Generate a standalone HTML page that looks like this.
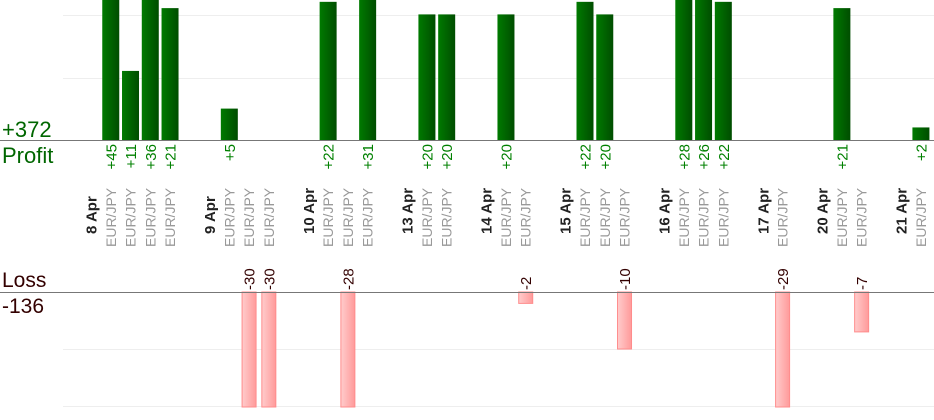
<!DOCTYPE html>
<html><head><meta charset="utf-8"><style>
html,body{margin:0;padding:0;background:#fff;}
svg{display:block;font-family:"Liberation Sans",sans-serif;}
</style></head><body>
<svg id="s" width="934" height="420" xmlns="http://www.w3.org/2000/svg">
<defs>
<linearGradient id="g" x1="0" x2="1" y1="0" y2="0"><stop offset="0" stop-color="#007a00"/><stop offset="1" stop-color="#004d00"/></linearGradient>
<linearGradient id="r" x1="0" x2="1" y1="0" y2="0"><stop offset="0" stop-color="#ffcccc"/><stop offset="1" stop-color="#ff9a9a"/></linearGradient>
</defs>
<line x1="63" x2="934" y1="15.5" y2="15.5" stroke="#eee"/>
<line x1="63" x2="934" y1="78.5" y2="78.5" stroke="#eee"/>
<line x1="63" x2="934" y1="349.5" y2="349.5" stroke="#eee"/>
<line x1="63" x2="934" y1="406.5" y2="406.5" stroke="#eee"/>
<g id="bars"></g>
<line x1="0" x2="934" y1="140.5" y2="140.5" stroke="#777"/>
<line x1="0" x2="934" y1="292.5" y2="292.5" stroke="#777"/>
<text x="2" y="137" font-size="22" fill="#006600">+372</text>
<text x="2" y="163" font-size="22" fill="#006600">Profit</text>
<text x="2" y="287" font-size="21" fill="#330000">Loss</text>
<text x="2" y="313" font-size="21" fill="#330000">-136</text>
</svg>
<script>
var slots={0:'8 Apr',1:45,2:11,3:36,4:21,6:'9 Apr',7:5,8:-30,9:-30,11:'10 Apr',12:22,13:-28,14:31,16:'13 Apr',17:20,18:20,20:'14 Apr',21:20,22:-2,24:'15 Apr',25:22,26:20,27:-10,29:'16 Apr',30:28,31:26,32:22,34:'17 Apr',35:-29,37:'20 Apr',38:21,39:-7,41:'21 Apr',42:2};
var h='';
for(var k in slots){var v=slots[k];var c=91+19.76*k;
if(typeof v==='string'){h+='<text transform="translate('+(c+5.5)+',234) rotate(-90)" font-size="15" font-weight="bold" fill="#222">'+v+'</text>';continue;}
h+='<text transform="translate('+(c+5)+',247) rotate(-90)" font-size="14" fill="#999">EUR/JPY</text>';
if(v>0){var ht=v*6.28;var t=Math.max(0,140-ht);
h+='<rect x="'+(c-8.5)+'" y="'+t+'" width="17" height="'+(140-t)+'" fill="url(#g)"/>';
h+='<text transform="translate('+(c+5.5)+',144) rotate(-90)" text-anchor="end" font-size="15" fill="#008000">+'+v+'</text>';}
else{var ht=-v*5.7;var b=Math.min(407,292+ht);
h+='<rect x="'+(c-7)+'" y="292" width="14" height="'+(b-292)+'" fill="url(#r)" stroke="#ff8c8c" stroke-width="1"/>';
h+='<text transform="translate('+(c+5.5)+',290) rotate(-90)" font-size="15" fill="#300">'+v+'</text>';}
}
document.getElementById('bars').innerHTML=h;
</script>
</body></html>
